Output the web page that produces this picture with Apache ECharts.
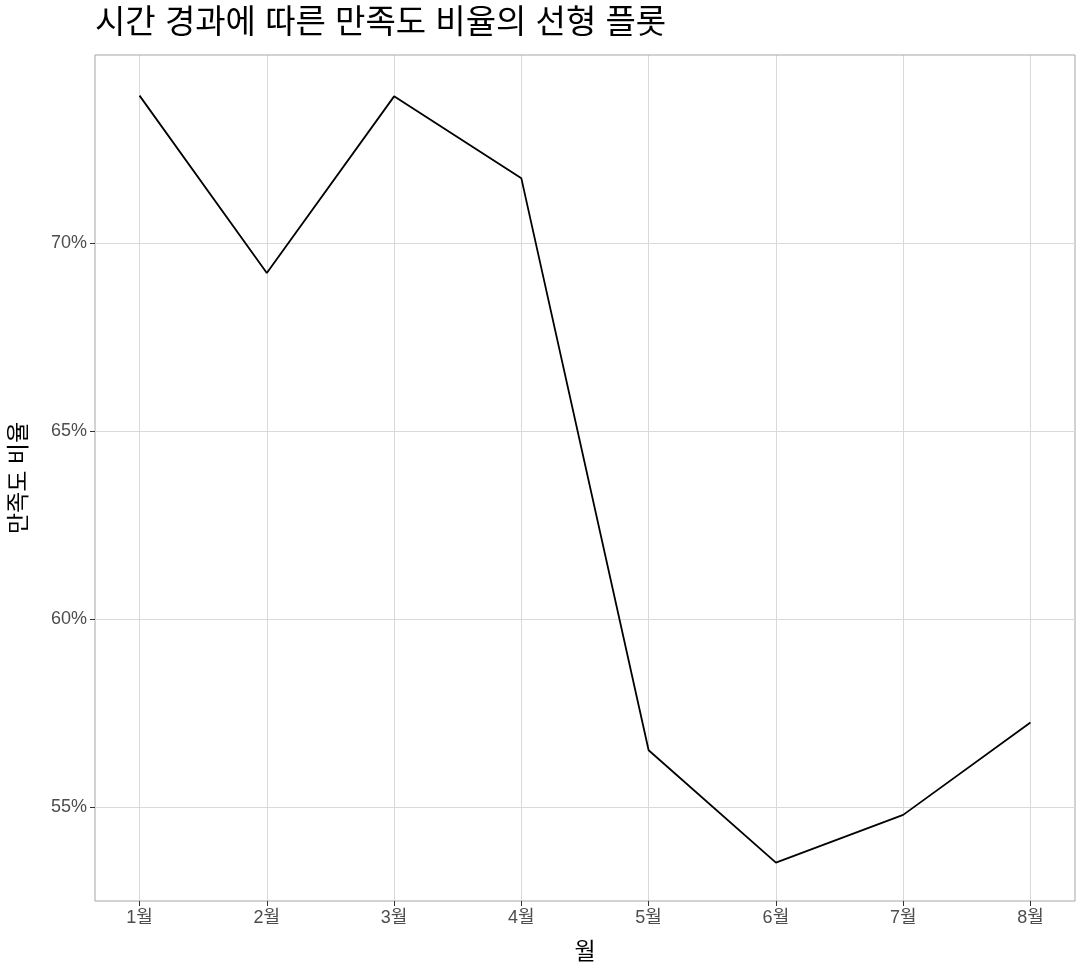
<!DOCTYPE html>
<html><head><meta charset="utf-8">
<script src="https://cdn.jsdelivr.net/npm/echarts@6/dist/echarts.min.js"></script>
<style>body{margin:0}#c{width:1080px;height:976px}</style></head>
<body><div id="c"></div>
<script>
const months = ['1월','2월','3월','4월','5월','6월','7월','8월'];
const ratio = [73.92, 69.2, 73.9, 71.72, 56.51, 53.52, 54.79, 57.25];
const monthPos = [1,2,3,4,5,6,7,8];
const yTicks = [55,60,65,70];
const font = '"Liberation Sans", "Noto Sans CJK KR", sans-serif';
const chart = echarts.init(document.getElementById('c'));
chart.setOption({
  backgroundColor:'#fff',
  title:{text:'시간 경과에 따른 만족도 비율의 선형 플롯',left:90,top:2,textStyle:{fontFamily:font,fontSize:33,fontWeight:'normal',color:'#000'}},
  grid:{left:94,right:5,top:55,bottom:75,show:true,borderColor:'#a6a6a6',borderWidth:1},
  xAxis:{type:'value',min:0.65,max:8.35,name:'월',nameLocation:'middle',nameGap:40,
    nameTextStyle:{fontFamily:font,fontSize:23,color:'#000'},
    axisLine:{show:false},splitLine:{show:false},
    axisTick:{show:true,customValues:monthPos,length:5,lineStyle:{color:'#333'}},
    axisLabel:{customValues:monthPos,formatter:v=>months[Math.round(v)-1],fontFamily:font,fontSize:18,color:'#4d4d4d',margin:8}},
  yAxis:{type:'value',min:52.5,max:75,interval:2.5,name:'만족도 비율',nameLocation:'middle',nameGap:64,
    nameTextStyle:{fontFamily:font,fontSize:23,color:'#000'},
    axisLine:{show:false},
    axisTick:{show:true,customValues:yTicks,length:5,lineStyle:{color:'#333'}},
    splitLine:{lineStyle:{color:'#d9d9d9',width:1}},
    axisLabel:{customValues:yTicks,formatter:v=>v+'%',fontFamily:font,fontSize:18,color:'#4d4d4d'}},
  series:[{type:'line',data:monthPos.map((m,i)=>[m,ratio[i]]),symbol:'none',
    lineStyle:{color:'#000',width:1.8},
    markLine:{silent:true,symbol:'none',label:{show:false},lineStyle:{color:'#d9d9d9',type:'solid',width:1},
      data:monthPos.map(m=>({xAxis:m})),z:-1}}]
});
</script></body></html>
